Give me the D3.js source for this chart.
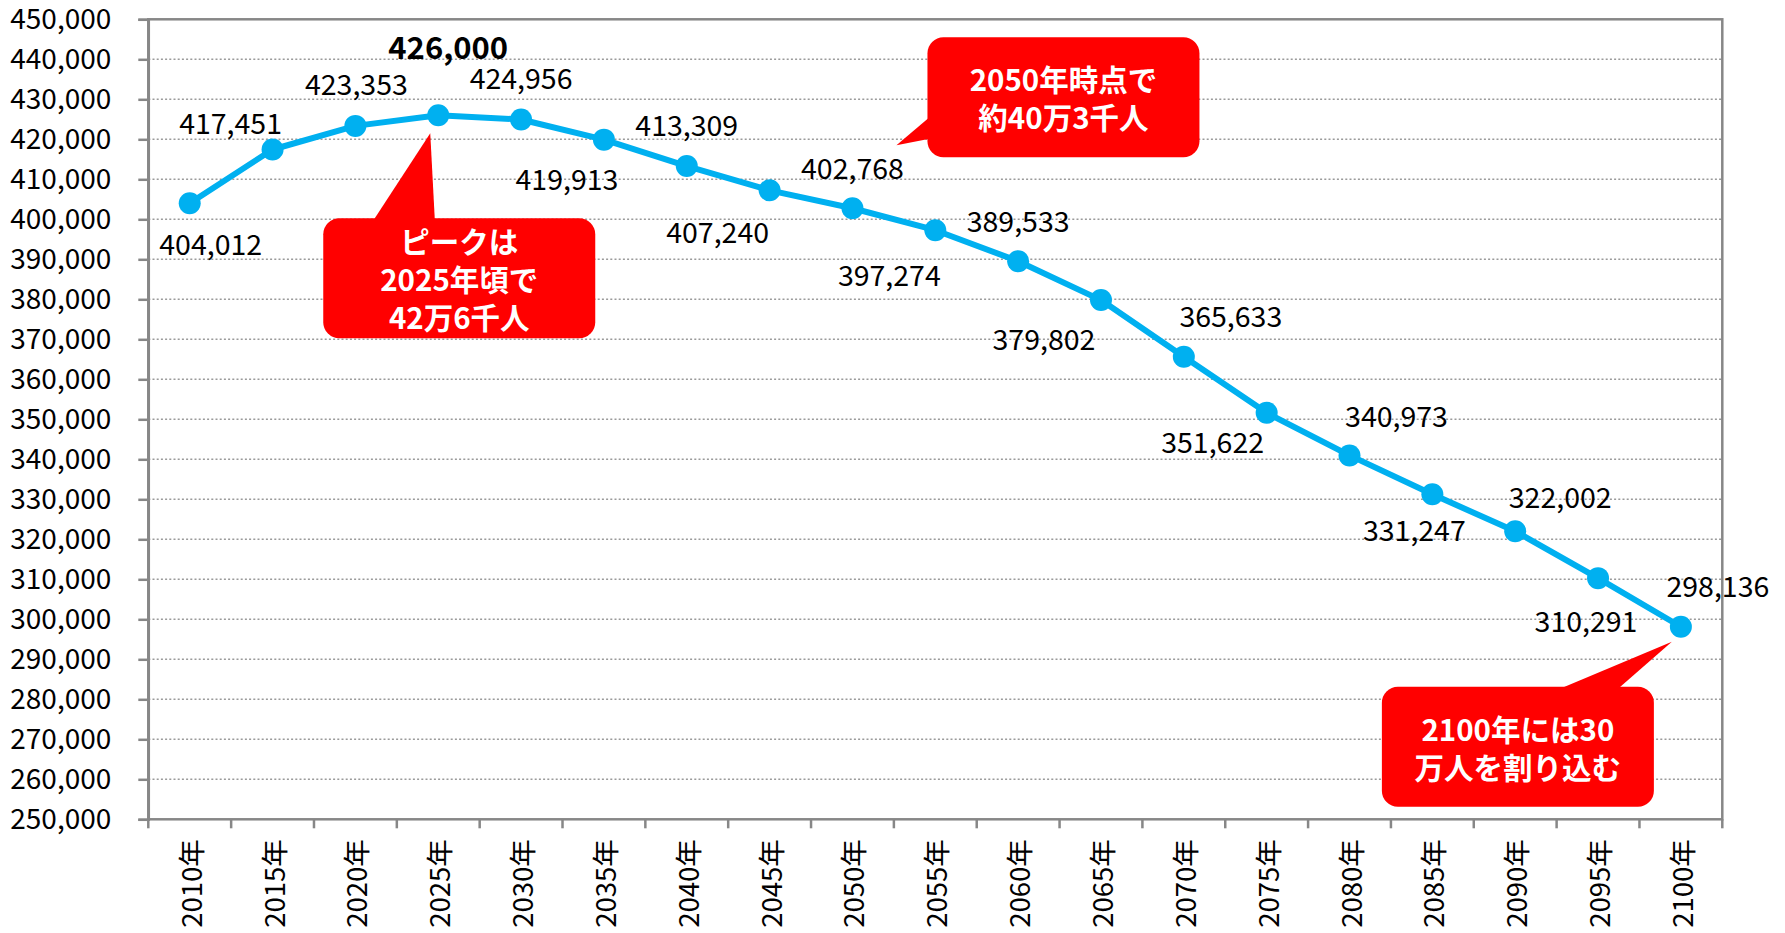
<!DOCTYPE html>
<html>
<head>
<meta charset="utf-8">
<script src="https://cdn.jsdelivr.net/npm/d3@7"></script>
<style>
  body { margin: 0; background: #fff; }
  svg text { font-family: "Noto Sans CJK JP", "Noto Sans", sans-serif; }
</style>
</head>
<body>
<svg width="1785" height="933"></svg>
<script>
// 人口推計 (2010-2100)
var years = ["2010年", "2015年", "2020年", "2025年", "2030年", "2035年", "2040年",
  "2045年", "2050年", "2055年", "2060年", "2065年", "2070年", "2075年", "2080年",
  "2085年", "2090年", "2095年", "2100年"];
var population = [404012, 417451, 423353, 426000, 424956, 419913, 413309,
  407240, 402768, 397274, 389533, 379802, 365633, 351622, 340973,
  331247, 322002, 310291, 298136];
var yTicks = d3.range(250000, 450001, 10000);

// label placement (px from the point)
var labelOffsets = [[21, 39], [-42, -28], [1, -43], [10, -70], [0, -43], [-37, 38],
  [0, -43], [-52, 40], [0, -42], [-46, 43], [0, -42], [-57, 37], [47, -42],
  [-54, 28], [47, -41], [-18, 34], [45, -36], [-12, 41], [37, -42]];

var callouts = [
  {year: "2025年", value: 426000, lines: ["ピークは", "2025年頃で", "42万6千人"],
   tip: [-8, 18], box: [-115, 103, 272, 120], base: [[-70, 113], [-3, 113]]},
  {year: "2050年", value: 402768, lines: ["2050年時点で", "約40万3千人"],
   tip: [44, -63], box: [75, -171, 272, 120], base: [[90, -102], [90, -72]]},
  {year: "2100年", value: 298136, lines: ["2100年には30", "万人を割り込む"],
   tip: [-9, 15], box: [-299, 60, 272, 120], base: [[-140, 70], [-72, 70]]}
];

var svg = d3.select("svg"),
    margin = {top: 19.3, right: 62.7, bottom: 113.7, left: 148.3},
    width = +svg.attr("width") - margin.left - margin.right,
    height = +svg.attr("height") - margin.top - margin.bottom;

var x = d3.scaleBand().domain(years).range([0, width]).padding(0),
    y = d3.scaleLinear().domain([250000, 450000]).range([height, 0]);

var g = svg.append("g")
    .attr("transform", "translate(" + margin.left + "," + margin.top + ")");

var axisColor = "#878787";

// gridlines
g.append("g").selectAll("line")
  .data(yTicks.slice(1, -1))
  .enter().append("line")
    .attr("x1", 0).attr("x2", width)
    .attr("y1", function(d) { return y(d); })
    .attr("y2", function(d) { return y(d); })
    .attr("stroke", "#9a9a9a")
    .attr("stroke-width", 1.6)
    .attr("stroke-dasharray", "2,2.2");

// plot border
g.append("rect")
    .attr("width", width).attr("height", height)
    .attr("fill", "none")
    .attr("stroke", axisColor)
    .attr("stroke-width", 2.5);

// y axis
var yAxis = g.append("g")
    .call(d3.axisLeft(y).tickValues(yTicks).tickFormat(d3.format(",")).tickSize(10).tickPadding(27));
yAxis.select(".domain").attr("stroke", axisColor).attr("stroke-width", 2.5);
yAxis.selectAll(".tick line").attr("stroke", axisColor).attr("stroke-width", 2.5);
yAxis.selectAll("text").attr("font-size", 28).attr("fill", "#000")
    .attr("font-family", "\"Noto Sans CJK JP\", sans-serif");

// x axis ticks at band edges
var edges = years.map(function(d) { return x(d); }).concat([width]);
g.append("g").selectAll("line")
  .data(edges)
  .enter().append("line")
    .attr("x1", function(d) { return d; }).attr("x2", function(d) { return d; })
    .attr("y1", height).attr("y2", height + 9)
    .attr("stroke", axisColor)
    .attr("stroke-width", 2.5);

g.append("g").selectAll("text")
  .data(years)
  .enter().append("text")
    .attr("transform", function(d) {
      return "translate(" + (x(d) + x.bandwidth() / 2) + "," + (height + 20) + ") rotate(-90)";
    })
    .attr("text-anchor", "end")
    .attr("dominant-baseline", "central")
    .attr("font-size", 27.5)
    .text(function(d) { return d; });

// line
var pts = years.map(function(d, i) { return {year: d, value: population[i], i: i}; });
var line = d3.line()
    .x(function(d) { return x(d.year) + x.bandwidth() / 2; })
    .y(function(d) { return y(d.value); });

// callouts (under the line)
callouts.forEach(function(c) {
  var ax = x(c.year) + x.bandwidth() / 2, ay = y(c.value);
  var cg = g.append("g");
  cg.append("path")
    .attr("d", "M" + (ax + c.tip[0]) + "," + (ay + c.tip[1]) +
               "L" + (ax + c.base[0][0]) + "," + (ay + c.base[0][1]) +
               "L" + (ax + c.base[1][0]) + "," + (ay + c.base[1][1]) + "Z")
    .attr("fill", "#ff0000");
  cg.append("rect")
    .attr("x", ax + c.box[0]).attr("y", ay + c.box[1])
    .attr("width", c.box[2]).attr("height", c.box[3])
    .attr("rx", 16)
    .attr("fill", "#ff0000");
  var cx = ax + c.box[0] + c.box[2] / 2,
      cy = ay + c.box[1] + c.box[3] / 2;
  cg.selectAll("text")
    .data(c.lines)
    .enter().append("text")
      .attr("x", cx)
      .attr("y", function(d, i) { return cy + (i - (c.lines.length - 1) / 2) * 38; })
      .attr("text-anchor", "middle")
      .attr("dominant-baseline", "central")
      .attr("font-size", 29.5)
      .attr("font-weight", "bold")
      .attr("fill", "#fff")
      .text(function(d) { return d; });
});

g.append("path")
    .datum(pts)
    .attr("fill", "none")
    .attr("stroke", "#00b0f0")
    .attr("stroke-width", 6)
    .attr("stroke-linejoin", "round")
    .attr("d", line);

g.selectAll(".dot")
  .data(pts)
  .enter().append("circle")
    .attr("class", "dot")
    .attr("cx", function(d) { return x(d.year) + x.bandwidth() / 2; })
    .attr("cy", function(d) { return y(d.value); })
    .attr("r", 11)
    .attr("fill", "#00b0f0");

// data labels
var peak = d3.max(population);
g.selectAll(".lbl")
  .data(pts)
  .enter().append("text")
    .attr("class", "lbl")
    .attr("x", function(d) { return x(d.year) + x.bandwidth() / 2 + labelOffsets[d.i][0]; })
    .attr("y", function(d) { return y(d.value) + labelOffsets[d.i][1]; })
    .attr("text-anchor", "middle")
    .attr("dominant-baseline", "central")
    .attr("font-size", function(d) { return d.value === peak ? 31 : 28.5; })
    .attr("font-weight", function(d) { return d.value === peak ? "bold" : "normal"; })
    .attr("fill", "#000")
    .text(function(d) { return d3.format(",")(d.value); });
</script>
</body>
</html>
